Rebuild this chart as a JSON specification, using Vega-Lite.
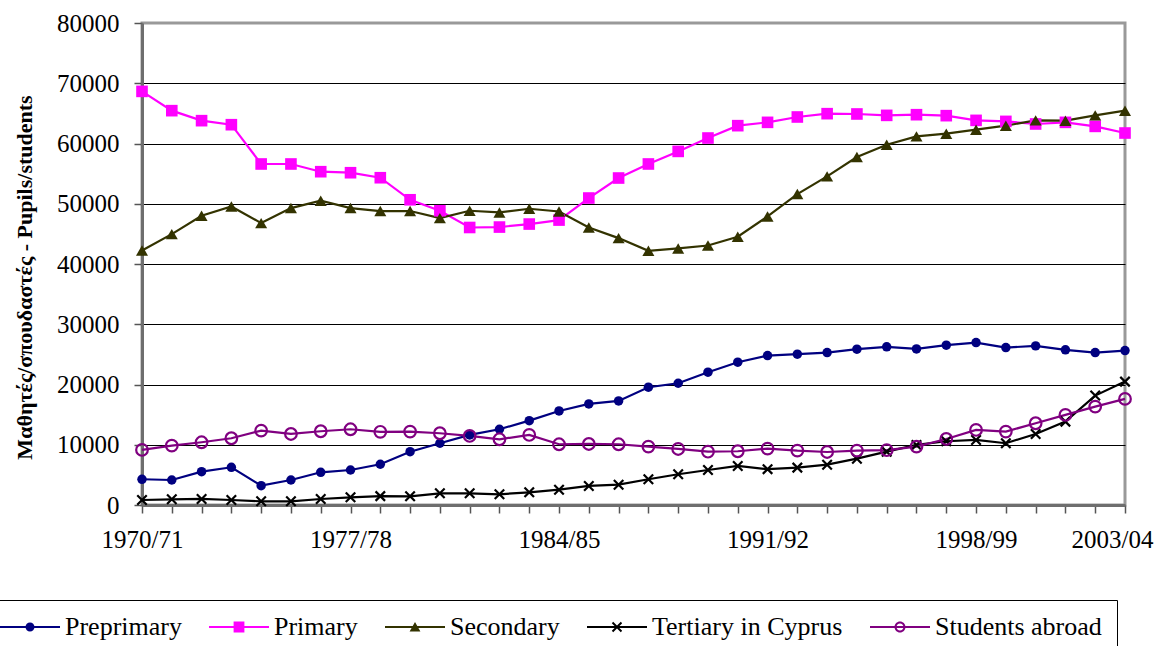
{
  "$schema": "https://vega.github.io/schema/vega-lite/v6.json",
  "width": 983,
  "height": 482,
  "autosize": {"type": "none"},
  "padding": {"left": 142, "top": 23, "right": 34, "bottom": 141},
  "background": "white",
  "config": {
    "view": {"stroke": "#999999", "strokeWidth": 3},
    "font": "Liberation Serif"
  },
  "data": {"values": [
    {"year":"1970/71","series":"Preprimary","value":4270},{"year":"1971/72","series":"Preprimary","value":4150},{"year":"1972/73","series":"Preprimary","value":5530},{"year":"1973/74","series":"Preprimary","value":6260},{"year":"1974/75","series":"Preprimary","value":3210},{"year":"1975/76","series":"Preprimary","value":4150},{"year":"1976/77","series":"Preprimary","value":5430},{"year":"1977/78","series":"Preprimary","value":5810},{"year":"1978/79","series":"Preprimary","value":6760},{"year":"1979/80","series":"Preprimary","value":8850},{"year":"1980/81","series":"Preprimary","value":10250},{"year":"1981/82","series":"Preprimary","value":11630},{"year":"1982/83","series":"Preprimary","value":12570},{"year":"1983/84","series":"Preprimary","value":14000},{"year":"1984/85","series":"Preprimary","value":15610},{"year":"1985/86","series":"Preprimary","value":16780},{"year":"1986/87","series":"Preprimary","value":17280},{"year":"1987/88","series":"Preprimary","value":19550},{"year":"1988/89","series":"Preprimary","value":20210},{"year":"1989/90","series":"Preprimary","value":22040},{"year":"1990/91","series":"Preprimary","value":23700},{"year":"1991/92","series":"Preprimary","value":24800},{"year":"1992/93","series":"Preprimary","value":25030},{"year":"1993/94","series":"Preprimary","value":25300},{"year":"1994/95","series":"Preprimary","value":25860},{"year":"1995/96","series":"Preprimary","value":26250},{"year":"1996/97","series":"Preprimary","value":25910},{"year":"1997/98","series":"Preprimary","value":26530},{"year":"1998/99","series":"Preprimary","value":26960},{"year":"1999/00","series":"Preprimary","value":26130},{"year":"2000/01","series":"Preprimary","value":26410},{"year":"2001/02","series":"Preprimary","value":25750},{"year":"2002/03","series":"Preprimary","value":25300},{"year":"2003/04","series":"Preprimary","value":25630},
    {"year":"1970/71","series":"Primary","value":68650},{"year":"1971/72","series":"Primary","value":65450},{"year":"1972/73","series":"Primary","value":63790},{"year":"1973/74","series":"Primary","value":63120},{"year":"1974/75","series":"Primary","value":56600},{"year":"1975/76","series":"Primary","value":56600},{"year":"1976/77","series":"Primary","value":55320},{"year":"1977/78","series":"Primary","value":55150},{"year":"1978/79","series":"Primary","value":54320},{"year":"1979/80","series":"Primary","value":50660},{"year":"1980/81","series":"Primary","value":48840},{"year":"1981/82","series":"Primary","value":46060},{"year":"1982/83","series":"Primary","value":46130},{"year":"1983/84","series":"Primary","value":46630},{"year":"1984/85","series":"Primary","value":47290},{"year":"1985/86","series":"Primary","value":50950},{"year":"1986/87","series":"Primary","value":54270},{"year":"1987/88","series":"Primary","value":56600},{"year":"1988/89","series":"Primary","value":58690},{"year":"1989/90","series":"Primary","value":60910},{"year":"1990/91","series":"Primary","value":62960},{"year":"1991/92","series":"Primary","value":63510},{"year":"1992/93","series":"Primary","value":64400},{"year":"1993/94","series":"Primary","value":64950},{"year":"1994/95","series":"Primary","value":64900},{"year":"1995/96","series":"Primary","value":64670},{"year":"1996/97","series":"Primary","value":64780},{"year":"1997/98","series":"Primary","value":64620},{"year":"1998/99","series":"Primary","value":63840},{"year":"1999/00","series":"Primary","value":63670},{"year":"2000/01","series":"Primary","value":63240},{"year":"2001/02","series":"Primary","value":63510},{"year":"2002/03","series":"Primary","value":62840},{"year":"2003/04","series":"Primary","value":61740},
    {"year":"1970/71","series":"Secondary","value":42240},{"year":"1971/72","series":"Secondary","value":44960},{"year":"1972/73","series":"Secondary","value":48010},{"year":"1973/74","series":"Secondary","value":49550},{"year":"1974/75","series":"Secondary","value":46790},{"year":"1975/76","series":"Secondary","value":49280},{"year":"1976/77","series":"Secondary","value":50500},{"year":"1977/78","series":"Secondary","value":49280},{"year":"1978/79","series":"Secondary","value":48790},{"year":"1979/80","series":"Secondary","value":48790},{"year":"1980/81","series":"Secondary","value":47620},{"year":"1981/82","series":"Secondary","value":48840},{"year":"1982/83","series":"Secondary","value":48560},{"year":"1983/84","series":"Secondary","value":49170},{"year":"1984/85","series":"Secondary","value":48720},{"year":"1985/86","series":"Secondary","value":46060},{"year":"1986/87","series":"Secondary","value":44300},{"year":"1987/88","series":"Secondary","value":42190},{"year":"1988/89","series":"Secondary","value":42580},{"year":"1989/90","series":"Secondary","value":43070},{"year":"1990/91","series":"Secondary","value":44520},{"year":"1991/92","series":"Secondary","value":47890},{"year":"1992/93","series":"Secondary","value":51610},{"year":"1993/94","series":"Secondary","value":54540},{"year":"1994/95","series":"Secondary","value":57760},{"year":"1995/96","series":"Secondary","value":59800},{"year":"1996/97","series":"Secondary","value":61180},{"year":"1997/98","series":"Secondary","value":61630},{"year":"1998/99","series":"Secondary","value":62290},{"year":"1999/00","series":"Secondary","value":62960},{"year":"2000/01","series":"Secondary","value":63840},{"year":"2001/02","series":"Secondary","value":63790},{"year":"2002/03","series":"Secondary","value":64670},{"year":"2003/04","series":"Secondary","value":65450},
    {"year":"1970/71","series":"Tertiary in Cyprus","value":830},{"year":"1971/72","series":"Tertiary in Cyprus","value":950},{"year":"1972/73","series":"Tertiary in Cyprus","value":1000},{"year":"1973/74","series":"Tertiary in Cyprus","value":830},{"year":"1974/75","series":"Tertiary in Cyprus","value":610},{"year":"1975/76","series":"Tertiary in Cyprus","value":610},{"year":"1976/77","series":"Tertiary in Cyprus","value":1000},{"year":"1977/78","series":"Tertiary in Cyprus","value":1280},{"year":"1978/79","series":"Tertiary in Cyprus","value":1470},{"year":"1979/80","series":"Tertiary in Cyprus","value":1440},{"year":"1980/81","series":"Tertiary in Cyprus","value":1940},{"year":"1981/82","series":"Tertiary in Cyprus","value":1940},{"year":"1982/83","series":"Tertiary in Cyprus","value":1780},{"year":"1983/84","series":"Tertiary in Cyprus","value":2110},{"year":"1984/85","series":"Tertiary in Cyprus","value":2540},{"year":"1985/86","series":"Tertiary in Cyprus","value":3160},{"year":"1986/87","series":"Tertiary in Cyprus","value":3370},{"year":"1987/88","series":"Tertiary in Cyprus","value":4270},{"year":"1988/89","series":"Tertiary in Cyprus","value":5100},{"year":"1989/90","series":"Tertiary in Cyprus","value":5810},{"year":"1990/91","series":"Tertiary in Cyprus","value":6480},{"year":"1991/92","series":"Tertiary in Cyprus","value":5950},{"year":"1992/93","series":"Tertiary in Cyprus","value":6200},{"year":"1993/94","series":"Tertiary in Cyprus","value":6690},{"year":"1994/95","series":"Tertiary in Cyprus","value":7690},{"year":"1995/96","series":"Tertiary in Cyprus","value":8850},{"year":"1996/97","series":"Tertiary in Cyprus","value":9970},{"year":"1997/98","series":"Tertiary in Cyprus","value":10580},{"year":"1998/99","series":"Tertiary in Cyprus","value":10800},{"year":"1999/00","series":"Tertiary in Cyprus","value":10250},{"year":"2000/01","series":"Tertiary in Cyprus","value":11790},{"year":"2001/02","series":"Tertiary in Cyprus","value":13840},{"year":"2002/03","series":"Tertiary in Cyprus","value":18160},{"year":"2003/04","series":"Tertiary in Cyprus","value":20480},
    {"year":"1970/71","series":"Students abroad","value":9140},{"year":"1971/72","series":"Students abroad","value":9850},{"year":"1972/73","series":"Students abroad","value":10410},{"year":"1973/74","series":"Students abroad","value":11080},{"year":"1974/75","series":"Students abroad","value":12340},{"year":"1975/76","series":"Students abroad","value":11790},{"year":"1976/77","series":"Students abroad","value":12240},{"year":"1977/78","series":"Students abroad","value":12570},{"year":"1978/79","series":"Students abroad","value":12150},{"year":"1979/80","series":"Students abroad","value":12180},{"year":"1980/81","series":"Students abroad","value":11910},{"year":"1981/82","series":"Students abroad","value":11460},{"year":"1982/83","series":"Students abroad","value":10910},{"year":"1983/84","series":"Students abroad","value":11630},{"year":"1984/85","series":"Students abroad","value":10080},{"year":"1985/86","series":"Students abroad","value":10130},{"year":"1986/87","series":"Students abroad","value":10080},{"year":"1987/88","series":"Students abroad","value":9690},{"year":"1988/89","series":"Students abroad","value":9300},{"year":"1989/90","series":"Students abroad","value":8850},{"year":"1990/91","series":"Students abroad","value":8920},{"year":"1991/92","series":"Students abroad","value":9360},{"year":"1992/93","series":"Students abroad","value":9020},{"year":"1993/94","series":"Students abroad","value":8800},{"year":"1994/95","series":"Students abroad","value":9020},{"year":"1995/96","series":"Students abroad","value":9100},{"year":"1996/97","series":"Students abroad","value":9690},{"year":"1997/98","series":"Students abroad","value":10960},{"year":"1998/99","series":"Students abroad","value":12460},{"year":"1999/00","series":"Students abroad","value":12180},{"year":"2000/01","series":"Students abroad","value":13570},{"year":"2001/02","series":"Students abroad","value":14950},{"year":"2002/03","series":"Students abroad","value":16330},{"year":"2003/04","series":"Students abroad","value":17610}
  ]},
  "encoding": {
    "x": {
      "field": "year", "type": "ordinal",
      "scale": {"type": "point", "padding": 0},
      "axis": {
        "title": null,
        "labelAngle": 0,
        "labelOverlap": false,
        "labelExpr": "indexof(['1970/71','1977/78','1984/85','1991/92','1998/99','2003/04'], datum.label) >= 0 ? datum.label : ''",
        "labelFont": "Liberation Serif",
        "labelFontSize": 25,
        "labelColor": "#000000",
        "labelPadding": 14,
        "labelOffset": {"condition": {"test": "datum.label == '2003/04'", "value": -13}, "value": 0},
        "tickColor": "#555555",
        "tickSize": 8,
        "tickWidth": 1.5,
        "domainColor": "#6e6e6e",
        "domainWidth": 3,
        "grid": false
      }
    },
    "y": {
      "field": "value", "type": "quantitative",
      "scale": {"domain": [0, 80000], "nice": false},
      "axis": {
        "values": [0, 10000, 20000, 30000, 40000, 50000, 60000, 70000, 80000],
        "format": "d",
        "title": "Μαθητές/σπουδαστές - Pupils/students",
        "titleFont": "Liberation Serif",
        "titleFontSize": 22,
        "titleFontWeight": "bold",
        "titleColor": "#000000",
        "titleAngle": -90,
        "titleAlign": "center",
        "titleBaseline": "middle",
        "titleX": -118,
        "titleY": 254,
        "labelFont": "Liberation Serif",
        "labelFontSize": 25,
        "labelColor": "#000000",
        "labelPadding": 15,
        "tickColor": "#555555",
        "tickSize": 8,
        "tickWidth": 1.5,
        "domainColor": "#6e6e6e",
        "domainWidth": 3,
        "grid": true,
        "gridColor": {"condition": {"test": "datum.value == 80000 || datum.value == 0", "value": "transparent"}, "value": "#000000"},
        "gridWidth": 1
      }
    }
  },
  "layer": [
    {"transform": [{"filter": "datum.series == 'Preprimary'"}], "mark": {"type": "line", "strokeWidth": 2.2, "color": "#000080"}, "encoding": {}},
    {"transform": [{"filter": "datum.series == 'Primary'"}], "mark": {"type": "line", "strokeWidth": 2.2, "color": "#ff00ff"}, "encoding": {}},
    {"transform": [{"filter": "datum.series == 'Secondary'"}], "mark": {"type": "line", "strokeWidth": 2.2, "color": "#333300"}, "encoding": {}},
    {"transform": [{"filter": "datum.series == 'Tertiary in Cyprus'"}], "mark": {"type": "line", "strokeWidth": 2.2, "color": "#000000"}, "encoding": {}},
    {"transform": [{"filter": "datum.series == 'Students abroad'"}], "mark": {"type": "line", "strokeWidth": 2.2, "color": "#800080"}, "encoding": {}},
    {
      "transform": [{"filter": "datum.series == 'Preprimary'"}],
      "mark": {"type": "point", "filled": true, "shape": "circle", "size": 90, "color": "#000080", "opacity": 1}
    },
    {
      "transform": [{"filter": "datum.series == 'Primary'"}],
      "mark": {"type": "point", "filled": true, "shape": "square", "size": 135, "color": "#ff00ff", "opacity": 1}
    },
    {
      "transform": [{"filter": "datum.series == 'Secondary'"}],
      "mark": {"type": "point", "filled": true, "shape": "triangle-up", "size": 145, "color": "#333300", "opacity": 1}
    },
    {
      "transform": [{"filter": "datum.series == 'Tertiary in Cyprus'"}],
      "mark": {"type": "point", "filled": false, "shape": "M-1,-1L1,1M-1,1L1,-1", "size": 90, "strokeWidth": 2.2, "color": "#000000", "opacity": 1}
    },
    {
      "transform": [{"filter": "datum.series == 'Students abroad'"}],
      "mark": {"type": "point", "filled": false, "shape": "circle", "size": 135, "strokeWidth": 2.2, "color": "#800080", "opacity": 1}
    },
    {
      "mark": {"type": "point", "filled": true, "opacity": 0},
      "encoding": {
        "color": {
          "field": "series", "type": "nominal",
          "scale": {"domain": ["Preprimary", "Primary", "Secondary", "Tertiary in Cyprus", "Students abroad"], "range": ["#000080", "#ff00ff", "#333300", "#000000", "#800080"]},
          "legend": {
            "title": null, "orient": "none", "legendX": -157, "legendY": 577,
            "direction": "horizontal", "columns": 5, "gridAlign": "each", "columnPadding": 27,
            "symbolSize": 3600, "symbolStrokeWidth": 0, "symbolOffset": 0, "symbolOpacity": 1, "clipHeight": 24,
            "labelFont": "Liberation Serif", "labelFontSize": 26, "labelColor": "#000000", "labelOffset": 5, "labelLimit": 400,
            "strokeColor": "#000000", "fillColor": "#ffffff", "padding": 15
          }
        },
        "shape": {
          "field": "series", "type": "nominal",
          "scale": {"domain": ["Preprimary", "Primary", "Secondary", "Tertiary in Cyprus", "Students abroad"],
            "range": [
              "M-1,-0.037L1,-0.037L1,0.037L-1,0.037Z M0.15,0A0.15 0.15 0 1 1 -0.15,0A0.15 0.15 0 1 1 0.15,0Z",
              "M-1,-0.037L1,-0.037L1,0.037L-1,0.037Z M-0.18,-0.18L0.18,-0.18L0.18,0.18L-0.18,0.18Z",
              "M-1,-0.037L1,-0.037L1,0.037L-1,0.037Z M0,-0.17L0.18,0.15L-0.18,0.15Z",
              "M-1,-0.037L1,-0.037L1,0.037L-1,0.037Z M-0.127,-0.173L0.173,0.127L0.127,0.173L-0.173,-0.127Z M0.127,-0.173L0.173,-0.127L-0.127,0.173L-0.173,0.127Z",
              "M-1,-0.037L1,-0.037L1,0.037L-1,0.037Z M0.183,0A0.183 0.183 0 1 1 -0.183,0A0.183 0.183 0 1 1 0.183,0Z M0.117,0A0.117 0.117 0 1 0 -0.117,0A0.117 0.117 0 1 0 0.117,0Z"
            ]},
          "legend": {
            "title": null, "orient": "none", "legendX": -157, "legendY": 577,
            "direction": "horizontal", "columns": 5, "gridAlign": "each", "columnPadding": 27,
            "symbolSize": 3600, "symbolStrokeWidth": 0, "symbolOffset": 0, "symbolOpacity": 1, "clipHeight": 24,
            "labelFont": "Liberation Serif", "labelFontSize": 26, "labelColor": "#000000", "labelOffset": 5, "labelLimit": 400,
            "strokeColor": "#000000", "fillColor": "#ffffff", "padding": 15
          }
        }
      }
    }
  ]
}
